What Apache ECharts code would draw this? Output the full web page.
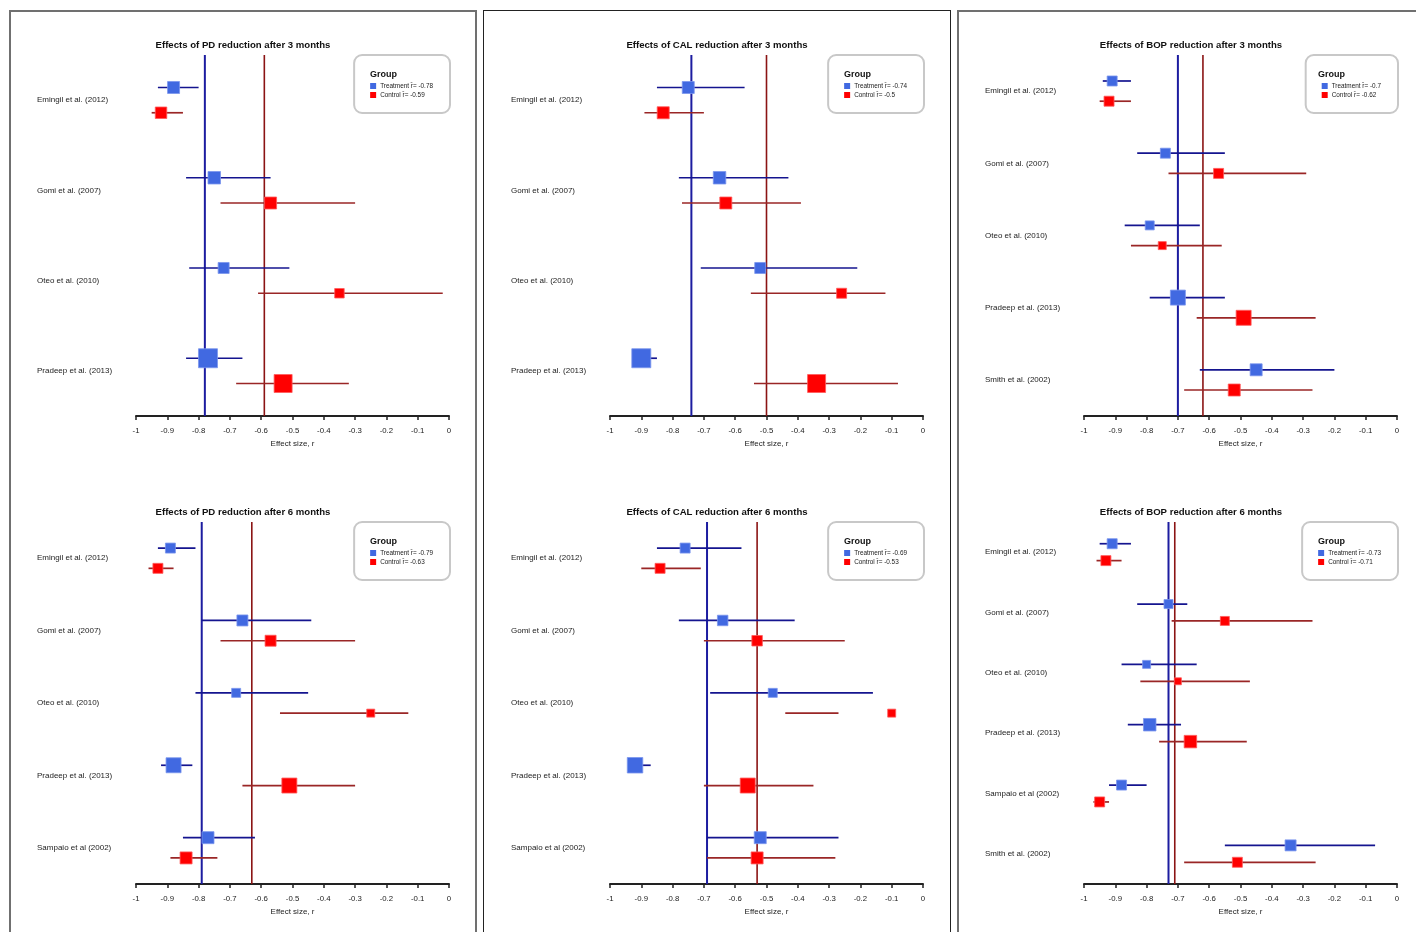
<!DOCTYPE html>
<html>
<head>
<meta charset="utf-8">
<title>Forest plots</title>
<script src="https://cdn.jsdelivr.net/npm/echarts@6/dist/echarts.min.js"></script>
<style>
  html, body { margin: 0; padding: 0; background: #fff; overflow: hidden; }
  body { width: 1416px; height: 932px; position: relative; }
  .box { position: absolute; top: 10px; width: 468px; height: 960px; box-sizing: border-box; }
  .chart { position: absolute; width: 468px; }
</style>
</head>
<body>
<div class="box" style="left:9px; border:2px solid #707070;"></div>
<div class="box" style="left:483px; border:1.5px solid #222;"></div>
<div class="box" style="left:957px; border:2px solid #707070;"></div>

<div id="pd3" class="chart" style="left:9px; top:10px; height:460px;"></div>
<div id="cal3" class="chart" style="left:483px; top:10px; height:460px;"></div>
<div id="bop3" class="chart" style="left:957px; top:10px; height:460px;"></div>
<div id="pd6" class="chart" style="left:9px; top:470px; height:462px;"></div>
<div id="cal6" class="chart" style="left:483px; top:470px; height:462px;"></div>
<div id="bop6" class="chart" style="left:957px; top:470px; height:462px;"></div>

<script>
// studies
var studies4 = ['Emingil et al. (2012)', 'Gomi et al. (2007)', 'Oteo et al. (2010)', 'Pradeep et al. (2013)'];
var studiesBop3 = ['Emingil et al. (2012)', 'Gomi et al. (2007)', 'Oteo et al. (2010)', 'Pradeep et al. (2013)', 'Smith et al. (2002)'];
var studies6 = ['Emingil et al. (2012)', 'Gomi et al. (2007)', 'Oteo et al. (2010)', 'Pradeep et al. (2013)', 'Sampaio et al (2002)'];
var studiesBop6 = ['Emingil et al. (2012)', 'Gomi et al. (2007)', 'Oteo et al. (2010)', 'Pradeep et al. (2013)', 'Sampaio et al (2002)', 'Smith et al. (2002)'];

// [effect r, lower, upper, weight]
var pd3Trt = [[-0.88, -0.93, -0.80, 12], [-0.75, -0.84, -0.57, 12.5], [-0.72, -0.83, -0.51, 11], [-0.77, -0.84, -0.66, 19]];
var pd3Ctl = [[-0.92, -0.95, -0.85, 11.5], [-0.57, -0.73, -0.30, 12], [-0.35, -0.61, -0.02, 9.5], [-0.53, -0.68, -0.32, 18]];
var pd3Mean = [-0.78, -0.59];

var cal3Trt = [[-0.75, -0.85, -0.57, 12], [-0.65, -0.78, -0.43, 12.5], [-0.52, -0.71, -0.21, 11], [-0.90, -0.92, -0.85, 19]];
var cal3Ctl = [[-0.83, -0.89, -0.70, 12], [-0.63, -0.77, -0.39, 12], [-0.26, -0.55, -0.12, 10], [-0.34, -0.54, -0.08, 18]];
var cal3Mean = [-0.74, -0.5];

var bop3Trt = [[-0.91, -0.94, -0.85, 10], [-0.74, -0.83, -0.55, 10], [-0.79, -0.87, -0.63, 9], [-0.70, -0.79, -0.55, 15], [-0.45, -0.63, -0.20, 12]];
var bop3Ctl = [[-0.92, -0.95, -0.85, 10], [-0.57, -0.73, -0.29, 10], [-0.75, -0.85, -0.56, 8], [-0.49, -0.64, -0.26, 15], [-0.52, -0.68, -0.27, 12]];
var bop3Mean = [-0.7, -0.62];

var pd6Trt = [[-0.89, -0.93, -0.81, 10], [-0.66, -0.79, -0.44, 11], [-0.68, -0.81, -0.45, 9], [-0.88, -0.92, -0.82, 15], [-0.77, -0.85, -0.62, 12]];
var pd6Ctl = [[-0.93, -0.96, -0.88, 10], [-0.57, -0.73, -0.30, 11], [-0.25, -0.54, -0.13, 8], [-0.51, -0.66, -0.30, 15], [-0.84, -0.89, -0.74, 12]];
var pd6Mean = [-0.79, -0.63];

var cal6Trt = [[-0.76, -0.85, -0.58, 10], [-0.64, -0.78, -0.41, 10.5], [-0.48, -0.68, -0.16, 9], [-0.92, -0.94, -0.87, 15.5], [-0.52, -0.69, -0.27, 12]];
var cal6Ctl = [[-0.84, -0.90, -0.71, 10], [-0.53, -0.70, -0.25, 10.5], [-0.10, -0.44, -0.27, 8], [-0.56, -0.70, -0.35, 15], [-0.53, -0.69, -0.28, 12]];
var cal6Mean = [-0.69, -0.53];

var bop6Trt = [[-0.91, -0.95, -0.85, 10], [-0.73, -0.83, -0.67, 9], [-0.80, -0.88, -0.64, 8], [-0.79, -0.86, -0.69, 12.5], [-0.88, -0.92, -0.80, 10], [-0.34, -0.55, -0.07, 11]];
var bop6Ctl = [[-0.93, -0.96, -0.88, 10], [-0.55, -0.72, -0.27, 9], [-0.70, -0.82, -0.47, 7], [-0.66, -0.76, -0.48, 12.5], [-0.95, -0.97, -0.92, 10], [-0.51, -0.68, -0.26, 10]];
var bop6Mean = [-0.73, -0.71];

var xTicks = { min: -1, max: 0, interval: 0.1 };

var FONT = '"Liberation Sans", Arial, Helvetica, sans-serif';
var DODGE = 0.14; // treatment above, control below the study row

function toItems(rows, side) {
    return rows.map(function (r, i) {
        return [r[0], r[1], r[2], r[3], i + 0.5 + side * DODGE];
    });
}

function forestSeries(name, rows, side, fill, edge, ci) {
    return {
        name: name,
        type: 'custom',
        z: 3,
        itemStyle: { color: fill },
        encode: { x: [0, 1, 2], y: 4 },
        renderItem: function (params, api) {
            var y = api.value(4);
            var p = api.coord([api.value(0), y]);
            var a = api.coord([api.value(1), y]);
            var b = api.coord([api.value(2), y]);
            var s = api.value(3);
            return {
                type: 'group',
                children: [
                    { type: 'line', shape: { x1: a[0], y1: a[1], x2: b[0], y2: b[1] }, style: { stroke: ci, lineWidth: 1.7 } },
                    { type: 'rect', shape: { x: p[0] - s / 2, y: p[1] - s / 2, width: s, height: s }, style: { fill: fill, stroke: edge, lineWidth: 0.8 } }
                ]
            };
        },
        data: toItems(rows, side)
    };
}

function meanLine(v, n, color, width) {
    return {
        type: 'line',
        z: 2,
        silent: true,
        symbol: 'none',
        lineStyle: { color: color, width: width },
        data: [[v, 0], [v, n]]
    };
}

function drawPanel(id, title, studies, trt, ctl, mean, gridTop) {
    var chart = echarts.init(document.getElementById(id));
    var n = studies.length;
    var trtName = 'Treatment r\u0304= ' + mean[0];
    var ctlName = 'Control r\u0304= ' + mean[1];
    var option = {
        animation: false,
        textStyle: { fontFamily: FONT },
        title: {
            text: title,
            left: 'center',
            top: gridTop - 15,
            padding: 0,
            textStyle: { fontSize: 9.6, fontWeight: 'bold', color: '#111', fontFamily: FONT }
        },
        legend: {
            data: [trtName, ctlName],
            orient: 'vertical',
            right: 27,
            top: gridTop,
            icon: 'rect',
            itemWidth: 6,
            itemHeight: 6,
            itemGap: 3,
            selectedMode: false,
            textStyle: { fontSize: 6.4, color: '#222', fontFamily: FONT, padding: [0, 0, 0, -1] },
            borderColor: '#c8c8c8',
            borderWidth: 2,
            borderRadius: 8,
            padding: [28, 17, 15, 16]
        },
        graphic: [{
            type: 'text',
            left: 361,
            top: gridTop + 15.5,
            style: { text: 'Group', font: 'bold 9px ' + FONT, fill: '#111' }
        }],
        grid: {
            left: 127, top: gridTop, width: 313, height: gridTop === 45 ? 361 : 362,
            containLabel: false,
            outerBoundsMode: 'none'
        },
        xAxis: {
            type: 'value',
            min: xTicks.min,
            max: xTicks.max,
            interval: xTicks.interval,
            position: 'bottom',
            name: 'Effect size, r',
            nameLocation: 'middle',
            nameGap: 18,
            nameTextStyle: { fontSize: 8, color: '#222', fontFamily: FONT },
            axisLine: { show: true, onZero: false, lineStyle: { color: '#222', width: 2 } },
            axisTick: { show: true, length: 4, lineStyle: { color: '#222', width: 1.5 } },
            axisLabel: { fontSize: 7.8, color: '#222', margin: 11, fontFamily: FONT },
            splitLine: { show: false }
        },
        yAxis: [{
            type: 'value',
            min: 0,
            max: n,
            inverse: true,
            show: false
        }, {
            type: 'category',
            position: 'left',
            offset: 0,
            data: studies,
            inverse: true,
            boundaryGap: true,
            axisLine: { show: false },
            axisTick: { show: false },
            splitLine: { show: false },
            axisLabel: { align: 'left', margin: 99, fontSize: 8, color: '#222', fontFamily: FONT }
        }],
        series: [
            meanLine(mean[0], n, '#1c1ca0', 2),
            meanLine(mean[1], n, '#8b1414', 1.6),
            forestSeries(trtName, trt, -1, '#4169e1', '#7b96ee', '#14148f'),
            forestSeries(ctlName, ctl, 1, '#ff0000', '#ff5a5a', '#9a2626')
        ]
    };
    chart.setOption(option);
    return chart;
}

drawPanel('pd3', 'Effects of PD reduction after 3 months', studies4, pd3Trt, pd3Ctl, pd3Mean, 45);
drawPanel('cal3', 'Effects of CAL reduction after 3 months', studies4, cal3Trt, cal3Ctl, cal3Mean, 45);
drawPanel('bop3', 'Effects of BOP reduction after 3 months', studiesBop3, bop3Trt, bop3Ctl, bop3Mean, 45);
drawPanel('pd6', 'Effects of PD reduction after 6 months', studies6, pd6Trt, pd6Ctl, pd6Mean, 52);
drawPanel('cal6', 'Effects of CAL reduction after 6 months', studies6, cal6Trt, cal6Ctl, cal6Mean, 52);
drawPanel('bop6', 'Effects of BOP reduction after 6 months', studiesBop6, bop6Trt, bop6Ctl, bop6Mean, 52);
</script>
</body>
</html>
